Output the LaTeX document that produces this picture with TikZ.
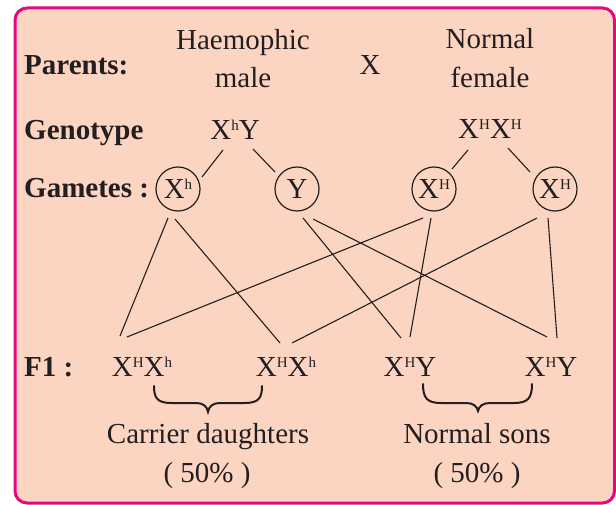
\documentclass[tikz,border=0pt]{standalone}
\usepackage{fontspec}
\setmainfont{Liberation Serif}
\definecolor{peach}{HTML}{FCD4C2}
\definecolor{framec}{HTML}{E4097E}
\definecolor{ink}{HTML}{231F20}
\newcommand\sps[1]{\raisebox{9pt}{\fontsize{15}{15}\selectfont #1}}
\tikzset{
  txt/.style={font=\fontsize{29}{33}\selectfont, text=ink, inner sep=0pt, anchor=base},
  lab/.style={font=\fontsize{29}{33}\selectfont\bfseries, text=ink, inner sep=0pt, anchor=base west},
  gam/.style={font=\fontsize{29}{33}\selectfont, text=ink, draw=ink, circle, line width=1.2pt, minimum size=44pt, inner sep=0pt},
  link/.style={draw=ink, line width=1.1pt},
  bracec/.style={draw=ink, line width=2pt, line cap=round},
}
\begin{document}
\begin{tikzpicture}[x=1pt,y=-1pt]
\useasboundingbox (0,0) rectangle (616,505);
\draw[fill=peach, draw=framec, line width=3pt, rounded corners=12pt] (15,8) rectangle (614.5,503);

% row labels
\node[lab] (lpar) at (24,75) {Parents:};
\node[lab] (lgen) at (24,140) {Genotype};
\node[lab] (lgam) at (24,198) {Gametes :};
\node[lab] (lf1) at (24,376) {F1 :};

% parents
\node[txt] (hm1) at (243,50) {Haemophic};
\node[txt] (hm2) at (243,88) {male};
\node[txt] (cross) at (370,75) {X};
\node[txt] (nf1) at (490,49) {Normal};
\node[txt] (nf2) at (490,88) {female};

% genotypes
\node[txt] (gm) at (235,140) {X\sps{h}Y};
\node[txt] (gf) at (490,139) {X\sps{H}X\sps{H}};

% gametes
\node[gam] (g1) at (178,189) {X\sps{h}};
\node[gam] (g2) at (297,189) {Y};
\node[gam] (g3) at (434,189) {X\sps{H}};
\node[gam] (g4) at (555,189) {X\sps{H}};

% F1
\node[txt] (f1) at (142,376) {X\sps{H}X\sps{h}};
\node[txt] (f2) at (286,376) {X\sps{H}X\sps{h}};
\node[txt] (f3) at (410,376) {X\sps{H}Y};
\node[txt] (f4) at (551,376) {X\sps{H}Y};

% results
\node[txt] (cd) at (208,443) {Carrier daughters};
\node[txt] (cdp) at (207,482) {( 50\% )};
\node[txt] (ns) at (477,443) {Normal sons};
\node[txt] (nsp) at (477,482) {( 50\% )};

% connector end points
\coordinate (gmL) at (223,150); \coordinate (g1T) at (202,177);
\coordinate (gmR) at (253,149); \coordinate (g2T) at (275,172);
\coordinate (gfL) at (468,150); \coordinate (g3T) at (452,169);
\coordinate (gfR) at (508,148); \coordinate (g4T) at (530,172);

\coordinate (g1a) at (168,218); \coordinate (g1b) at (175,219);
\coordinate (g2a) at (303,218); \coordinate (g2b) at (313,219);
\coordinate (g3a) at (423,218); \coordinate (g3b) at (431,218);
\coordinate (g4a) at (537,218); \coordinate (g4b) at (548,218);

\coordinate (f1a) at (120,336); \coordinate (f1b) at (127,337);
\coordinate (f2a) at (280,343); \coordinate (f2b) at (292,343);
\coordinate (f3a) at (401,338); \coordinate (f3b) at (410,337);
\coordinate (f4a) at (547,337); \coordinate (f4b) at (557,338);

% genotype -> gametes
\draw[link] (gmL) -- (g1T);
\draw[link] (gmR) -- (g2T);
\draw[link] (gfL) -- (g3T);
\draw[link] (gfR) -- (g4T);

% gametes -> F1
\draw[link] (g1a) -- (f1a);
\draw[link] (g1b) -- (f2a);
\draw[link] (g2a) -- (f3a);
\draw[link] (g2b) -- (f4a);
\draw[link] (g3a) -- (f1b);
\draw[link] (g3b) -- (f3b);
\draw[link] (g4a) -- (f2b);
\draw[link] (g4b) -- (f4b);

% braces
\draw[bracec] (154,386) .. controls (154,399) and (158,403) .. (172,403) -- (196,403)
  .. controls (203,403) and (207,406) .. (208,412)
  .. controls (209,406) and (213,403) .. (220,403) -- (244,403)
  .. controls (258,403) and (262,399) .. (262,386);
\draw[bracec] (423,384) .. controls (423,398) and (427,403) .. (441,403) -- (466,403)
  .. controls (473,403) and (477,406) .. (478,411)
  .. controls (479,406) and (483,403) .. (490,403) -- (514,403)
  .. controls (528,403) and (532,398) .. (532,384);
\end{tikzpicture}
\end{document}
